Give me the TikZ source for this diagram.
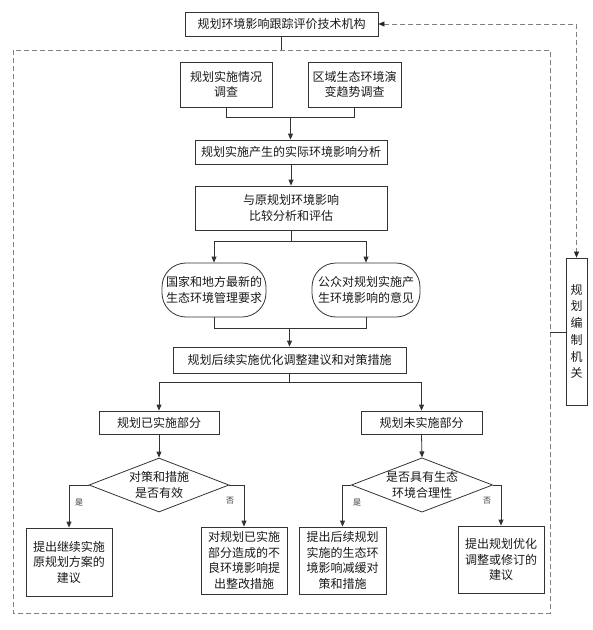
\documentclass[tikz,border=0pt]{standalone}
\usepackage{fontspec}
\newfontfamily\cjk{Noto Sans CJK SC}
\usetikzlibrary{arrows.meta,shapes.geometric}
\tikzset{
  ln/.style={draw=black!80, line width=0.8pt},
  arr/.style={ln, -{Triangle[length=6pt,width=5pt]}},
  box/.style={ln, rectangle, align=center, inner sep=0pt, font=\cjk\fontsize{12}{15.5}\selectfont, text=black!90},
  rbox/.style={box, rounded corners=24pt},
  dia/.style={ln, diamond, aspect=2.6, align=center, inner sep=0pt, font=\cjk\fontsize{12}{15.5}\selectfont, text=black!90},
  lbl/.style={font=\cjk\fontsize{8}{9}\selectfont, text=black!80, inner sep=0pt},
  dsh/.style={draw=black!50, line width=0.8pt, dash pattern=on 5pt off 3pt},
  dtip/.tip={Triangle[length=6pt,width=5pt,color=black!85]},
}
\begin{document}
\begin{tikzpicture}[x=1pt,y=-1pt]
\useasboundingbox (0,0) rectangle (593,630);
% outer dashed frame
\draw[dsh] (13,50) rectangle (550,613);
\coordinate (ftop) at (282,50);
\coordinate (fright) at (550,332);

\node[box, minimum width=193pt, minimum height=24pt] (top) at (281.5,24) {规划环境影响跟踪评价技术机构};
\node[box, minimum width=92pt, minimum height=45pt] (b1) at (226,84.5) {规划实施情况\\调查};
\node[box, minimum width=93pt, minimum height=45pt] (b2) at (354.5,84.5) {区域生态环境演\\变趋势调查};
\node[box, minimum width=192pt, minimum height=24pt] (b3) at (291,152) {规划实施产生的实际环境影响分析};
\node[box, minimum width=192pt, minimum height=44pt] (b4) at (291,208) {与原规划环境影响\\比较分析和评估};
\node[rbox, minimum width=104pt, minimum height=54pt] (r1) at (214,290) {国家和地方最新的\\生态环境管理要求};
\node[rbox, minimum width=108pt, minimum height=54pt] (r2) at (366,290) {公众对规划实施产\\生环境影响的意见};
\node[box, minimum width=233pt, minimum height=26pt] (b5) at (289.5,360) {规划后续实施优化调整建议和对策措施};
\node[box, minimum width=120pt, minimum height=23pt] (L) at (159,422.5) {规划已实施部分};
\node[box, minimum width=121pt, minimum height=23pt] (R) at (421.5,422.5) {规划未实施部分};
\node[dia, minimum width=140pt, minimum height=54pt] (dL) at (159,485) {对策和措施\\是否有效};
\node[dia, minimum width=140pt, minimum height=54pt] (dR) at (422,485) {是否具有生态\\环境合理性};
\node[box, minimum width=86pt, minimum height=68pt] (A) at (69,562) {提出继续实施\\原规划方案的\\建议};
\node[box, minimum width=86pt, minimum height=67pt] (B) at (244,560.5) {对规划已实施\\部分造成的不\\良环境影响提\\出整改措施};
\node[box, minimum width=87pt, minimum height=67pt] (C) at (342.5,560.5) {提出后续规划\\实施的生态环\\境影响减缓对\\策和措施};
\node[box, minimum width=86pt, minimum height=67pt] (D) at (501,559.5) {提出规划优化\\调整或修订的\\建议};
\node[box, minimum width=21pt, minimum height=147pt, font=\cjk\fontsize{12}{16.7}\selectfont] (V) at (576.5,331.5) {规\\划\\编\\制\\机\\关};

% labels
\node[lbl] (yL) at (79,503) {是};
\node[lbl] (nL) at (230,501) {否};
\node[lbl] (yR) at (357,503) {是};
\node[lbl] (nR) at (487,501) {否};

% connectors
\draw[ln] (top.south) -- (top.south |- ftop);
\coordinate (m1) at (290.5,117);
\draw[ln] (b1.south) -- (b1.south |- m1) -- (b2.south |- m1) -- (b2.south);
\draw[arr] (m1) -- (m1 |- b3.north);
\draw[arr] (b3.south) -- (b4.north);
\coordinate (s1) at (291,241);
\draw[ln] (b4.south) -- (s1);
\draw[arr] (r1.north |- s1) -- (r1.north);
\draw[arr] (r2.north |- s1) -- (r2.north);
\draw[ln] (r1.north |- s1) -- (r2.north |- s1);
\coordinate (m2) at (289.5,328);
\draw[ln] (r1.south) -- (r1.south |- m2) -- (r2.south |- m2) -- (r2.south);
\draw[arr] (m2) -- (m2 |- b5.north);
\coordinate (s2) at (289.5,382);
\draw[ln] (b5.south) -- (s2);
\draw[ln] (L.north |- s2) -- (R.north |- s2);
\draw[arr] (L.north |- s2) -- (L.north);
\draw[arr] (R.north |- s2) -- (R.north);
\draw[arr] (L.south) -- (dL.north);
\draw[arr] (R.south) -- (dR.north);
\draw[arr] (dL.west) -- (dL.west -| A.north) -- (A.north);
\draw[arr] (dL.east) -- (dL.east -| B.north) -- (B.north);
\draw[arr] (dR.west) -- (dR.west -| C.north) -- (C.north);
\draw[arr] (dR.east) -- (dR.east -| D.north) -- (D.north);
\draw[ln] (fright) -- (V.west |- fright);
\draw[dsh, dtip-dtip] (top.east) -- (top.east -| V.north) -- (V.north);
\end{tikzpicture}
\end{document}
